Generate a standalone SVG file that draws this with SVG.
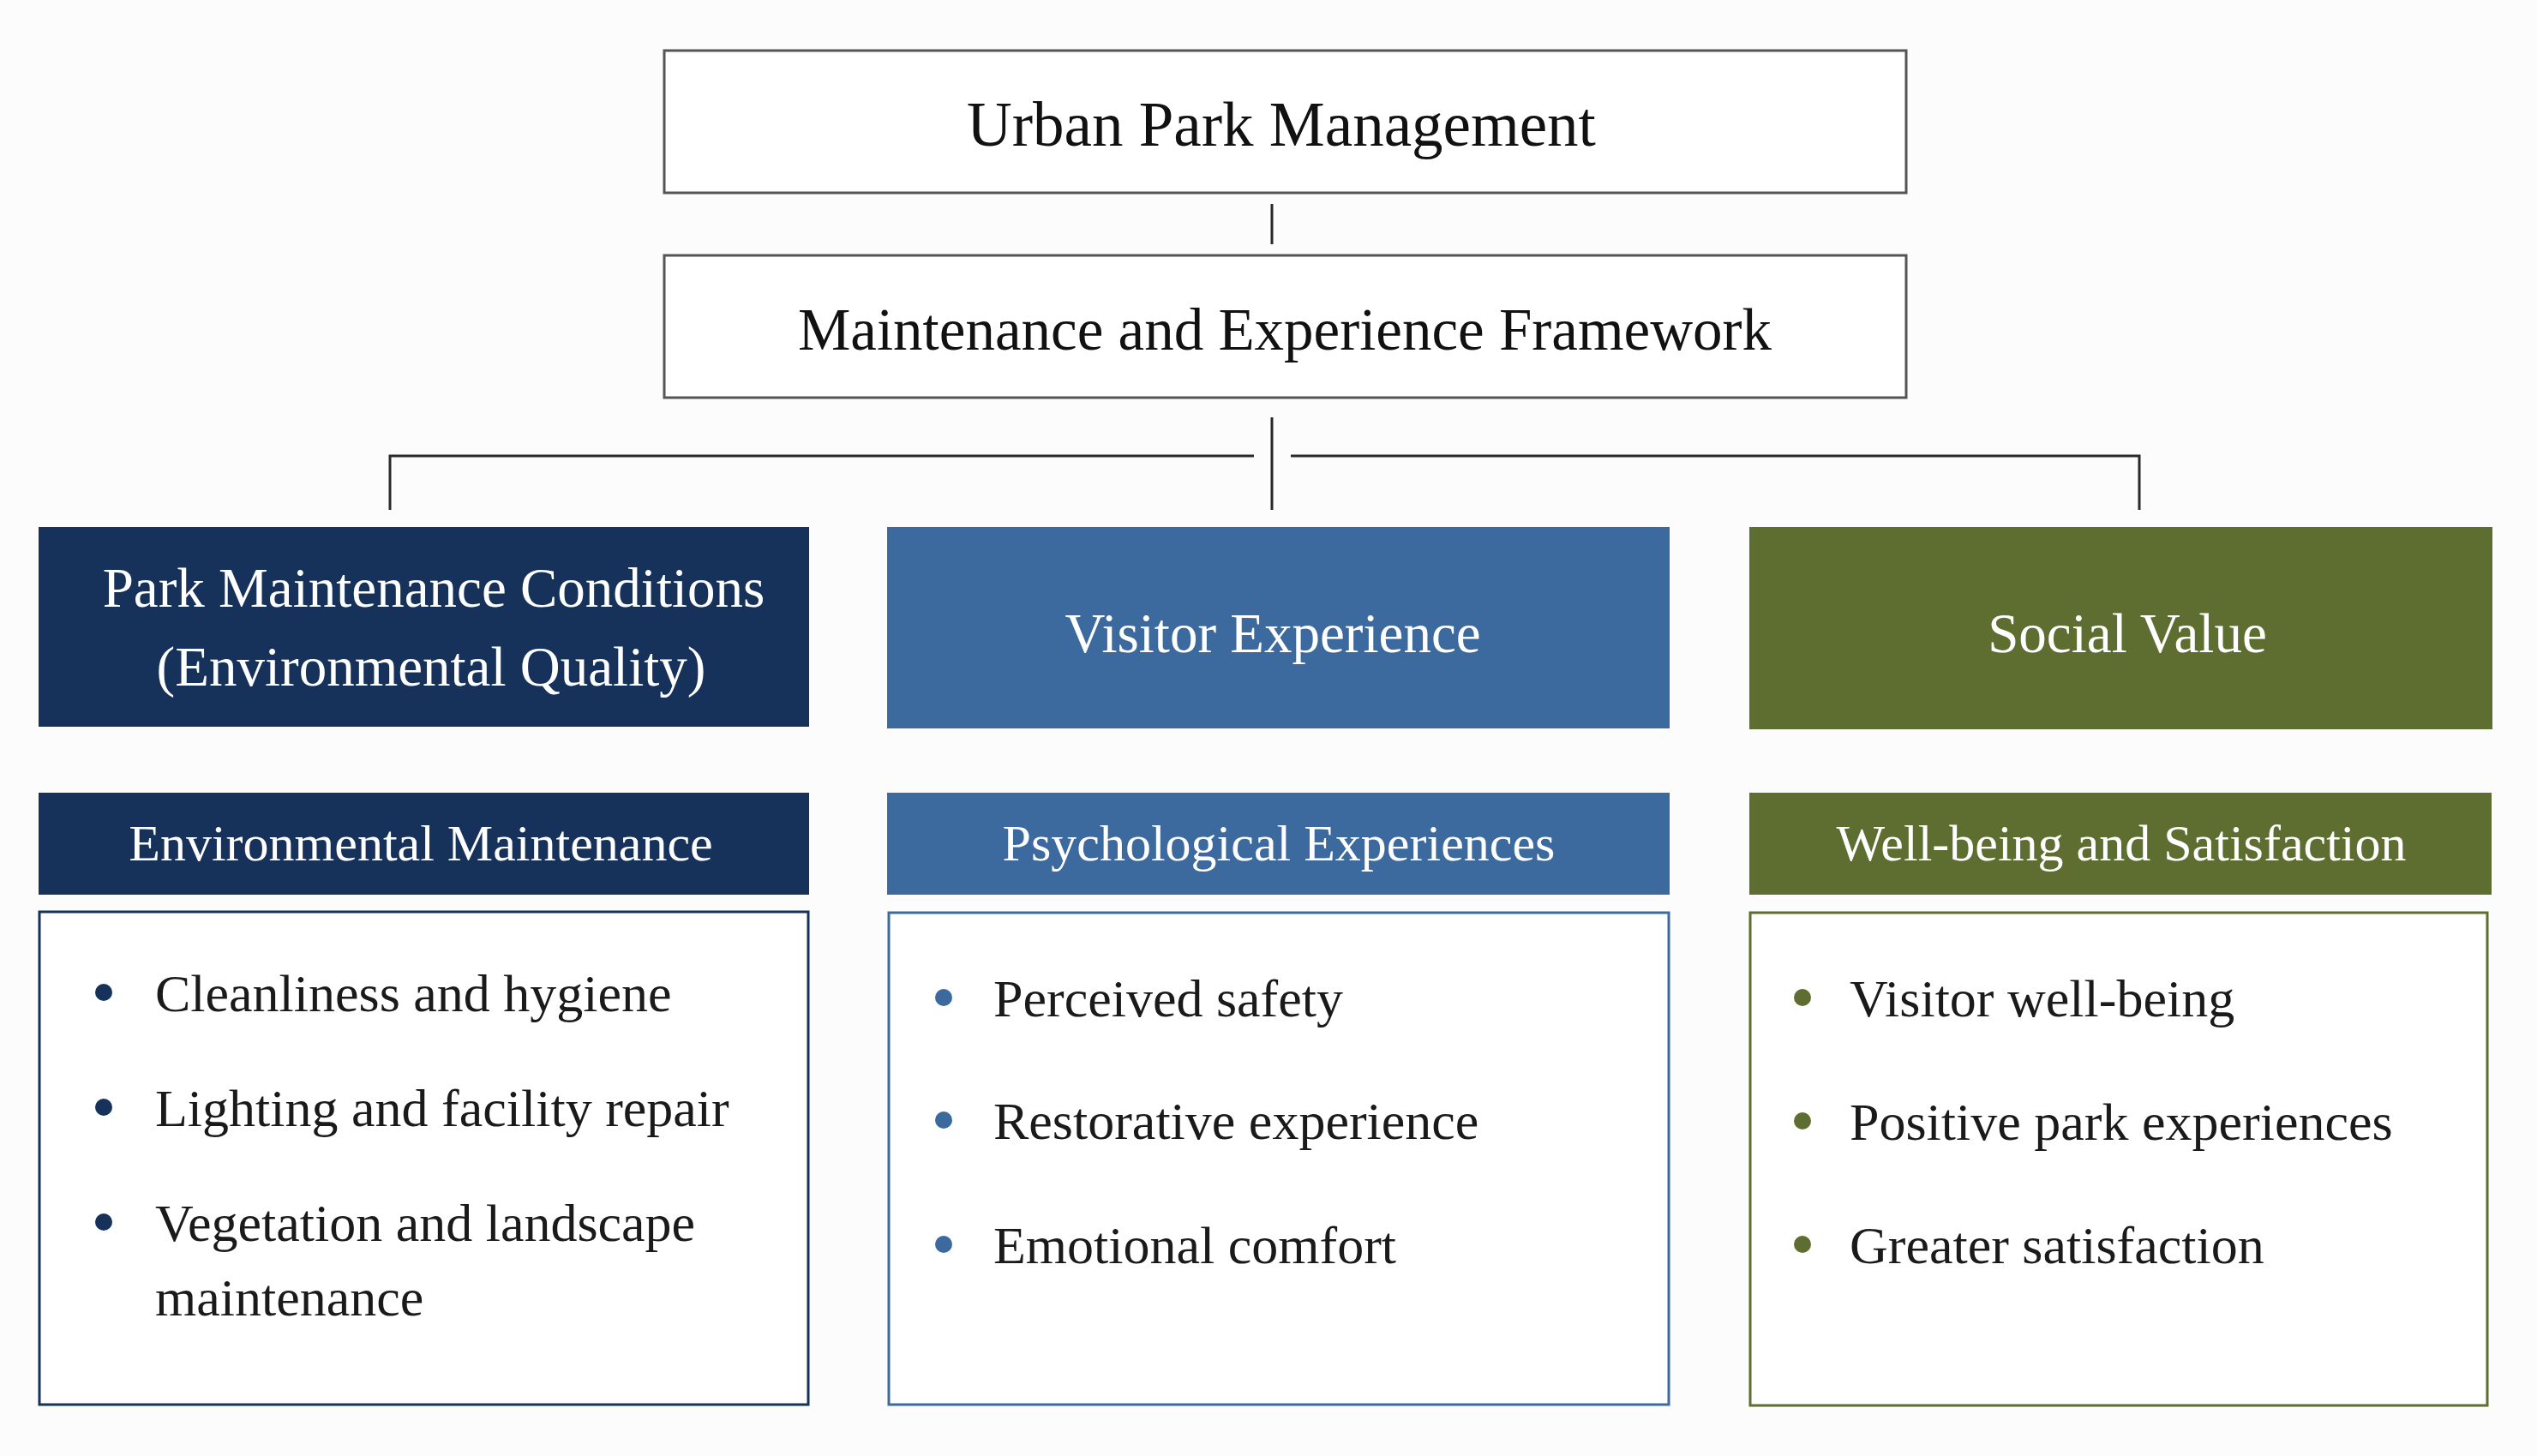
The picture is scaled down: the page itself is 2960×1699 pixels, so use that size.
<svg xmlns="http://www.w3.org/2000/svg" width="2960" height="1699" viewBox="0 0 2960 1699">
<style>
.t{font-family:"Liberation Serif","DejaVu Serif",serif;text-anchor:middle}
.top{font-size:73px;fill:#111}
.top2{font-size:69px;fill:#111}
.l3{font-size:65px;fill:#fff}
.hd{font-size:60px;fill:#fff}
.li{font-family:"Liberation Serif","DejaVu Serif",serif;font-size:62px;fill:#1a1a1a}
.wbox{fill:#fff;stroke:#555;stroke-width:3}
.conn{stroke:#2a2a2a;stroke-width:3;fill:none}
</style>
<rect width="2960" height="1699" fill="#fcfcfc"/>
<g id="connectors">
<line class="conn" x1="1484" y1="238" x2="1484" y2="285"/>
<line class="conn" x1="1484" y1="487" x2="1484" y2="595"/>
<polyline class="conn" points="455,595 455,532 1463,532"/>
<polyline class="conn" points="1506,532 2496,532 2496,595"/>
</g>
<g id="n-urban">
<rect class="wbox" x="775" y="59" width="1449" height="166"/>
<text class="t top" x="1495" y="170">Urban Park Management</text>
</g>
<g id="n-framework">
<rect class="wbox" x="775" y="298" width="1449" height="166"/>
<text class="t top2" x="1499" y="408">Maintenance and Experience Framework</text>
</g>
<g id="n-park">
<rect x="45" y="615" width="899" height="233" fill="#16325b"/>
<text class="t l3" x="506" y="708">Park Maintenance Conditions</text>
<text class="t l3" x="503" y="800">(Environmental Quality)</text>
</g>
<g id="n-visitor">
<rect x="1035" y="615" width="913" height="235" fill="#3c6a9f"/>
<text class="t l3" x="1485" y="761">Visitor Experience</text>
</g>
<g id="n-social">
<rect x="2041" y="615" width="867" height="236" fill="#5e6d30"/>
<text class="t l3" x="2482" y="761">Social Value</text>
</g>
<g id="n-envmaint">
<rect x="45" y="925" width="899" height="119" fill="#16325b"/>
<text class="t hd" x="491" y="1004">Environmental Maintenance</text>
</g>
<g id="n-psych">
<rect x="1035" y="925" width="913" height="119" fill="#3c6a9f"/>
<text class="t hd" x="1492" y="1004">Psychological Experiences</text>
</g>
<g id="n-wellbeing">
<rect x="2041" y="925" width="866" height="119" fill="#5e6d30"/>
<text class="t hd" x="2475" y="1004">Well-being and Satisfaction</text>
</g>
<g id="n-envlist">
<rect x="46" y="1064" width="897" height="575" fill="#fff" stroke="#16325b" stroke-width="3"/>
<circle cx="121" cy="1158" r="10" fill="#16325b"/>
<text class="li" x="181" y="1180">Cleanliness and hygiene</text>
<circle cx="121" cy="1292" r="10" fill="#16325b"/>
<text class="li" x="181" y="1314">Lighting and facility repair</text>
<circle cx="121" cy="1426" r="10" fill="#16325b"/>
<text class="li" x="181" y="1448">Vegetation and landscape</text>
<text class="li" x="181" y="1535">maintenance</text>
</g>
<g id="n-psychlist">
<rect x="1037" y="1065" width="910" height="574" fill="#fff" stroke="#3c6a9f" stroke-width="3"/>
<circle cx="1101" cy="1164" r="10" fill="#3c6a9f"/>
<text class="li" x="1159" y="1186">Perceived safety</text>
<circle cx="1101" cy="1307" r="10" fill="#3c6a9f"/>
<text class="li" x="1159" y="1329">Restorative experience</text>
<circle cx="1101" cy="1452" r="10" fill="#3c6a9f"/>
<text class="li" x="1159" y="1474">Emotional comfort</text>
</g>
<g id="n-welllist">
<rect x="2042" y="1065" width="860" height="575" fill="#fff" stroke="#5e6d30" stroke-width="3"/>
<circle cx="2103" cy="1164" r="10" fill="#5e6d30"/>
<text class="li" x="2158" y="1186">Visitor well-being</text>
<circle cx="2103" cy="1308" r="10" fill="#5e6d30"/>
<text class="li" x="2158" y="1330">Positive park experiences</text>
<circle cx="2103" cy="1452" r="10" fill="#5e6d30"/>
<text class="li" x="2158" y="1474">Greater satisfaction</text>
</g>
</svg>
